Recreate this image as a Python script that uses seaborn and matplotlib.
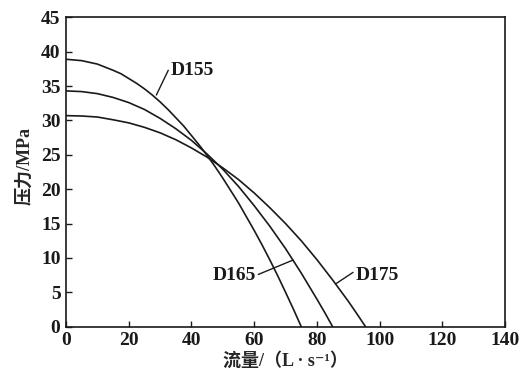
import numpy as np
import pandas as pd
import matplotlib
matplotlib.use("Agg")
import matplotlib.pyplot as plt
import seaborn as sns

# flow (L/s) and pressure (MPa)
flow_d155 = [0, 5, 10, 15, 17.5, 20, 22.5, 25, 27.5, 30, 32.5, 35, 37.5, 40, 42.5, 45,
             47.5, 50, 52.5, 55, 57.5, 60, 62.5, 65, 67.5, 70, 72.5, 75]
pres_d155 = [38.9, 38.7, 38.2, 37.3, 36.8, 36.1, 35.4, 34.6, 33.7, 32.7, 31.6, 30.4, 29.2, 27.8, 26.4, 24.9,
             23.3, 21.6, 19.8, 18.0, 16.0, 14.0, 11.9, 9.7, 7.4, 5.0, 2.55, 0.0]

flow_d165 = [0, 5, 10, 15, 20, 25, 30, 35, 40, 45, 50, 55, 60, 65, 70, 75, 80, 82.5, 85]
pres_d165 = [34.3, 34.2, 33.9, 33.35, 32.6, 31.6, 30.3, 28.8, 27.1, 25.1, 22.9, 20.4, 17.6, 14.6, 11.35, 7.8, 4.0, 2.05, 0.0]

flow_d175 = [0, 5, 10, 15, 20, 25, 30, 35, 40, 45, 50, 55, 60, 65, 70, 75, 80, 85, 90, 93, 95.5]
pres_d175 = [30.7, 30.65, 30.5, 30.1, 29.65, 29.0, 28.2, 27.2, 26.0, 24.65, 23.1, 21.4, 19.45, 17.3, 15.0, 12.5, 9.75, 6.8, 3.7, 1.7, 0.0]

df = pd.concat([
    pd.DataFrame({"flow": flow_d155, "pressure": pres_d155, "pump": "D155"}),
    pd.DataFrame({"flow": flow_d165, "pressure": pres_d165, "pump": "D165"}),
    pd.DataFrame({"flow": flow_d175, "pressure": pres_d175, "pump": "D175"}),
])

sns.set_style("ticks")
fam = ["Liberation Serif", "Noto Sans CJK SC", "DejaVu Serif"]
plt.rcParams["font.family"] = fam

fig = plt.figure(figsize=(5.24, 3.81), dpi=100)
ax = fig.add_axes([0.126, 0.1425, 0.838, 0.812])

sns.lineplot(data=df, x="flow", y="pressure", hue="pump", units="pump",
             estimator=None, palette=["#1a1a1a"] * 3, linewidth=1.2,
             legend=False, ax=ax, sort=False)

# curve labels with leader lines
lw = 1.0
ax.plot([28.8, 32.6], [33.7, 37.3], color="#1a1a1a", lw=lw)
ax.text(33.2, 37.3, "D155", fontsize=14, fontweight="bold", va="center", ha="left", color="#1a1a1a")
ax.plot([61.3, 72.4], [7.6, 9.7], color="#1a1a1a", lw=lw)
ax.text(60.5, 7.5, "D165", fontsize=14, fontweight="bold", va="center", ha="right", color="#1a1a1a")
ax.plot([86.2, 91.5], [6.3, 7.9], color="#1a1a1a", lw=lw)
ax.text(92.3, 7.5, "D175", fontsize=14, fontweight="bold", va="center", ha="left", color="#1a1a1a")

ax.set_xlim(0, 140)
ax.set_ylim(0, 45)
ax.set_xticks(np.arange(0, 141, 20))
ax.set_yticks(np.arange(0, 46, 5))
ax.tick_params(direction="in", length=4, width=1.0, top=False, right=False,
               labelsize=14, colors="#1a1a1a", pad=4)
for lab in ax.get_xticklabels() + ax.get_yticklabels():
    lab.set_fontweight("bold")
for s in ax.spines.values():
    s.set_visible(True)
    s.set_linewidth(1.2)
    s.set_color("#1a1a1a")

ax.set_xlabel("流量/（L · s⁻¹）", fontsize=13, fontweight="bold", labelpad=2)
ax.set_ylabel("压力/MPa", fontsize=13, fontweight="bold", labelpad=3)
ax.yaxis.set_label_coords(-0.075, 0.52)

fig.savefig("out.png", dpi=100)
